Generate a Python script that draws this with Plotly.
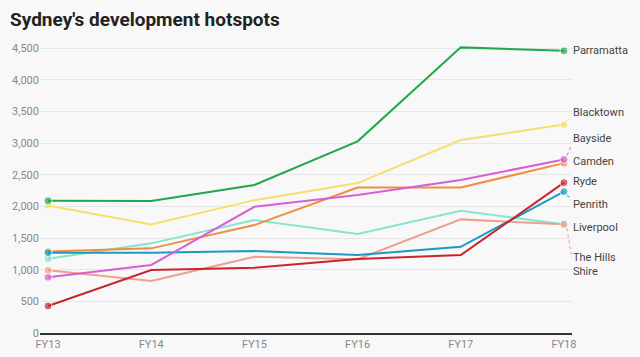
import plotly.graph_objects as go

years = ["FY13", "FY14", "FY15", "FY16", "FY17", "FY18"]

parramatta = [2090, 2085, 2340, 3030, 4515, 4460]
blacktown = [2015, 1717, 2100, 2370, 3050, 3295]
bayside = [880, 1075, 1995, 2180, 2417, 2744]
camden = [1290, 1338, 1706, 2300, 2300, 2685]
ryde = [427, 995, 1032, 1170, 1232, 2377]
penrith = [1270, 1269, 1295, 1232, 1363, 2235]
liverpool = [1172, 1417, 1785, 1564, 1932, 1718]
hills_shire = [992, 821, 1205, 1165, 1796, 1718]

series = [
    ("Liverpool", liverpool, "#84e6cf"),
    ("The Hills Shire", hills_shire, "#eea08d"),
    ("Camden", camden, "#ef8e3d"),
    ("Penrith", penrith, "#1b9bc4"),
    ("Bayside", bayside, "#d75fd6"),
    ("Blacktown", blacktown, "#f7e06a"),
    ("Ryde", ryde, "#c8262d"),
    ("Parramatta", parramatta, "#20a84c"),
]

# label offsets in pixels (up positive), leader line flag
label_layout = {
    "Parramatta": (0, False),
    "Blacktown": (12, True),
    "Bayside": (21, True),
    "Camden": (2, False),
    "Ryde": (1, False),
    "Penrith": (-13, True),
    "Liverpool": (-3, False),
    "The Hills Shire": (-40, True),
}
label_text = {"The Hills Shire": "The Hills<br>Shire"}

fig = go.Figure()
for name, vals, col in series:
    sizes = [8] + [0] * (len(vals) - 2) + [8]
    fig.add_trace(go.Scatter(
        x=years, y=vals, mode="lines+markers", name=name,
        line=dict(color=col, width=2),
        marker=dict(color=col, size=sizes),
        cliponaxis=False, showlegend=False, hoverinfo="x+y+name",
    ))
    dy, leader = label_layout[name]
    fig.add_annotation(
        x=years[-1], y=vals[-1], xref="x", yref="y",
        text=label_text.get(name, name), showarrow=False,
        xanchor="left", yanchor="middle", xshift=7, yshift=dy,
        align="left",
        font=dict(family="Roboto", size=11, color="#444444"),
    )
    if leader:
        fig.add_shape(
            type="line", xref="x", yref="y",
            xsizemode="pixel", ysizemode="pixel",
            xanchor=len(years) - 1, yanchor=vals[-1],
            x0=3, x1=8, y0=(4 if dy > 0 else -4), y1=dy - (6 if dy > 0 else -6),
            line=dict(color=col, width=1, dash="dot"),
        )

fig.update_layout(
    width=640, height=357,
    margin=dict(l=40, r=68, t=42, b=24, autoexpand=False),
    paper_bgcolor="#f8f8f8", plot_bgcolor="#f8f8f8",
    title=dict(
        text="<b>Sydney's development hotspots</b>",
        x=10 / 640, xref="container", xanchor="left",
        y=1 - 19 / 357, yref="container", yanchor="middle",
        font=dict(family="Roboto", size=19, color="#222222"),
    ),
    xaxis=dict(
        type="category", range=[-0.078, 5.078], automargin=False,
        showgrid=False, showline=True, linecolor="#333333", linewidth=1.5,
        ticks="", tickfont=dict(family="Roboto", size=11, color="#888888"),
    ),
    yaxis=dict(
        range=[0, 4600], tickvals=[0, 500, 1000, 1500, 2000, 2500, 3000, 3500, 4000, 4500],
        tickformat=",", showgrid=True, gridcolor="#e6e6e6", gridwidth=1,
        zeroline=False, showline=False, ticks="", automargin=False,
        tickfont=dict(family="Roboto", size=11, color="#888888"),
    ),
)

fig.write_html(
    "out.html",
    config={"displayModeBar": False},
    post_script="document.body.style.margin='0';",
)
